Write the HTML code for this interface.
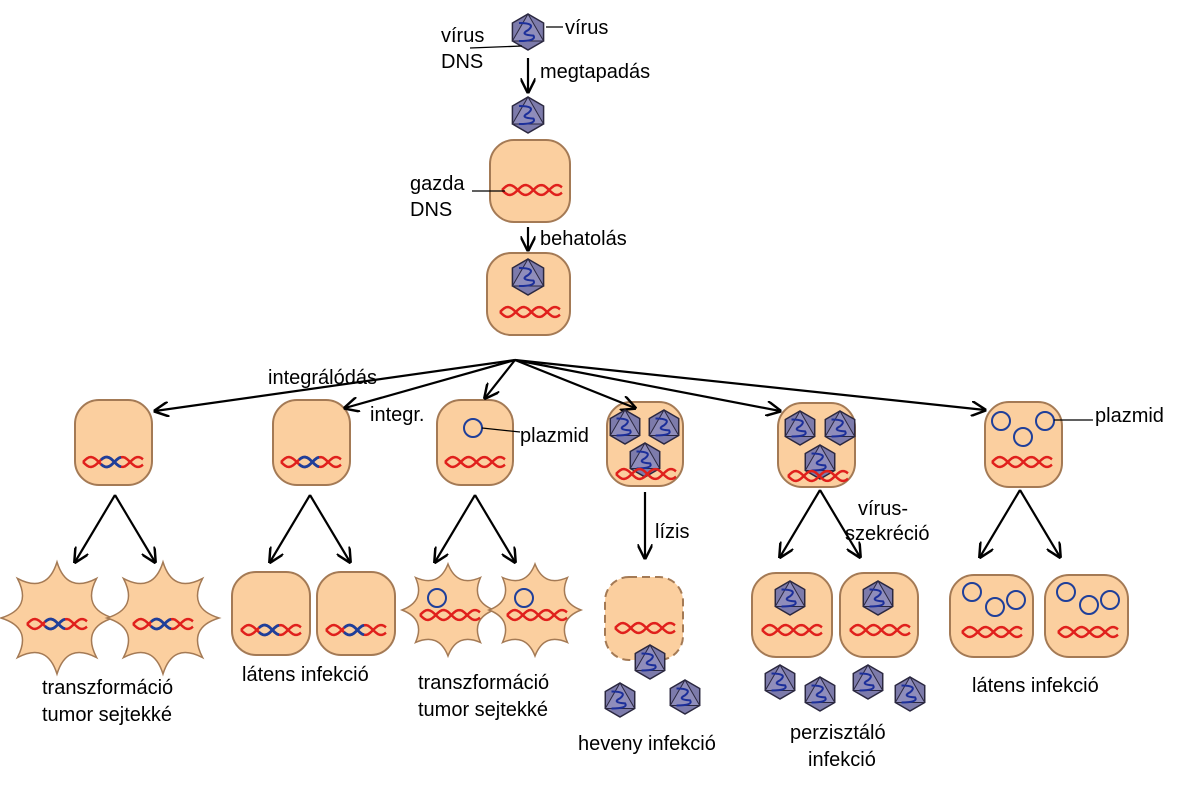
<!DOCTYPE html>
<html><head><meta charset="utf-8">
<style>
html,body{margin:0;padding:0;background:#fff;}
svg text{font-family:"Liberation Sans",sans-serif;font-size:20px;fill:#000;}
</style></head>
<body>
<svg id="s" width="1186" height="790" viewBox="0 0 1186 790" xmlns="http://www.w3.org/2000/svg">
<defs>
<marker id="ah" viewBox="0 0 10 10" refX="9" refY="5" markerWidth="7" markerHeight="7" orient="auto-start-reverse">
<path d="M0,0 L10,5 L0,10" fill="none" stroke="#000" stroke-width="1.6"/>
</marker>
</defs>
<g id="cells"></g>
<g id="marks"></g>
<g id="labels">
<text x="565" y="34">vírus</text>
<text x="441" y="42">vírus</text>
<text x="441" y="68">DNS</text>
<text x="540" y="78">megtapadás</text>
<text x="410" y="190">gazda</text>
<text x="410" y="216">DNS</text>
<text x="540" y="245">behatolás</text>
<text x="268" y="384">integrálódás</text>
<text x="370" y="421">integr.</text>
<text x="520" y="442">plazmid</text>
<text x="1095" y="422">plazmid</text>
<text x="655" y="538">lízis</text>
<text x="858" y="515">vírus-</text>
<text x="845" y="540">szekréció</text>
<text x="42" y="694">transzformáció</text>
<text x="42" y="721">tumor sejtekké</text>
<text x="242" y="681">látens infekció</text>
<text x="418" y="689">transzformáció</text>
<text x="418" y="716">tumor sejtekké</text>
<text x="578" y="750">heveny infekció</text>
<text x="790" y="739">perzisztáló</text>
<text x="808" y="766">infekció</text>
<text x="972" y="692">látens infekció</text>
</g>
</svg>
<script>
const NS="http://www.w3.org/2000/svg";
const cellsG=document.getElementById('cells'),marks=document.getElementById('marks');
function mk(tag,attrs,parent,name){const e=document.createElementNS(NS,tag);for(const k in attrs)e.setAttribute(k,attrs[k]);


(parent||marks).appendChild(e);return e;}
const FILL="#fbcf9f",STROKE="#a47a55";
function cell(x1,y1,x2,y2,dashed){const r=mk('rect',{x:x1,y:y1,width:x2-x1,height:y2-y1,rx:24,fill:FILL,stroke:STROKE,'stroke-width':2},cellsG,'cell');if(dashed)r.setAttribute('stroke-dasharray','8 5');}
function star(cx,cy,R,r,n){let d='';for(let i=0;i<n;i++){const a=i/n*2*Math.PI-Math.PI/2,a2=(i+0.5)/n*2*Math.PI-Math.PI/2,a3=(i+1)/n*2*Math.PI-Math.PI/2;
const p=[cx+R*Math.cos(a),cy+R*Math.sin(a)],q=[cx+r*Math.cos(a2),cy+r*Math.sin(a2)],e=[cx+R*Math.cos(a3),cy+R*Math.sin(a3)];
if(i==0)d+='M'+p[0].toFixed(1)+','+p[1].toFixed(1);d+=' Q'+q[0].toFixed(1)+','+q[1].toFixed(1)+' '+e[0].toFixed(1)+','+e[1].toFixed(1);}
mk('path',{d:d+'Z',fill:FILL,stroke:STROKE,'stroke-width':1.5},cellsG,'tumor-cell');}
function dna(cx,cy,mixed){const w=60;let d1='',d2='';for(let i=0;i<=w;i+=2){const x=cx-w/2+i,y1=cy+5*Math.sin(i/5),y2=cy-5*Math.sin(i/5);d1+=(i?'L':'M')+x.toFixed(1)+','+y1.toFixed(1);d2+=(i?'L':'M')+x.toFixed(1)+','+y2.toFixed(1);}
mk('path',{d:d1,fill:'none',stroke:'#e0201c','stroke-width':2.5},marks,'dna-strand');mk('path',{d:d2,fill:'none',stroke:'#e0201c','stroke-width':2.5},marks,'dna-strand');
if(mixed){let d3='';for(let i=18;i<=38;i+=2){const x=cx-w/2+i;d3+=(i>18?'L':'M')+x+','+(cy+5*Math.sin(i/5)).toFixed(1);}mk('path',{d:d3,fill:'none',stroke:'#1f3f9a','stroke-width':2.8},marks,'viral-dna');
let d4='';for(let i=18;i<=38;i+=2){const x=cx-w/2+i;d4+=(i>18?'L':'M')+x+','+(cy-5*Math.sin(i/5)).toFixed(1);}mk('path',{d:d4,fill:'none',stroke:'#1f3f9a','stroke-width':2.8},marks,'viral-dna');}}
function virus(cx,cy,r){r=r||17;let pts=[];for(let i=0;i<6;i++){const a=i*Math.PI/3-Math.PI/2;pts.push([cx+r*Math.cos(a),cy+r*Math.sin(a)]);}
mk('polygon',{points:pts.map(p=>p.join(',')).join(' '),fill:'#7d7bab',stroke:'#2b2840','stroke-width':1.5},marks,'virus');
mk('polygon',{points:[pts[0],pts[2],pts[4]].map(p=>p.join(',')).join(' '),fill:'#8f8dbb',stroke:'#2b2840','stroke-width':1},marks,'virus-face');
const s=r*0.5;mk('path',{d:`M${cx-s},${cy-s} Q${cx+s},${cy-s} ${cx},${cy-s*0.2} Q${cx-s},${cy+s*0.3} ${cx+s*0.6},${cy+s*0.4} Q${cx+s},${cy+s} ${cx-s},${cy+s}`,fill:'none',stroke:'#1c2f9a','stroke-width':2},marks,'virus-dna');}
function plasmid(cx,cy,r){mk('circle',{cx:cx,cy:cy,r:r||9,fill:'none',stroke:'#1f3f9a','stroke-width':2},marks,'plasmid');}
function arrow(x1,y1,x2,y2,w){mk('line',{x1:x1,y1:y1,x2:x2,y2:y2,stroke:'#000','stroke-width':w||2.2,'marker-end':'url(#ah)'},marks,'arrow');}
function line(x1,y1,x2,y2){mk('line',{x1:x1,y1:y1,x2:x2,y2:y2,stroke:'#000','stroke-width':1.3},marks,'leader-line');}

virus(528,32,18);line(546,27,563,27);line(470,48,522,46);
arrow(528,58,528,92);virus(528,115,18);
cell(490,140,570,222);dna(532,190);line(472,191,505,191);
arrow(528,227,528,250);
cell(487,253,570,335);virus(528,277,18);dna(530,312);
const bx=515,by=360;
[[155,411],[345,408],[485,398],[635,408],[780,411],[985,410]].forEach(p=>arrow(bx,by,p[0],p[1]));
cell(75,400,152,485);dna(113,462,true);
cell(273,400,350,485);dna(311,462,true);
cell(437,400,513,485);plasmid(473,428);line(482,428,520,432);dna(475,462);
cell(607,402,683,486);virus(625,427);virus(664,427);virus(645,460);dna(646,474);
cell(778,403,855,487);virus(800,428);virus(840,428);virus(820,462);dna(818,476);
cell(985,402,1062,487);plasmid(1001,421);plasmid(1023,437);plasmid(1045,421);line(1054,420,1093,420);dna(1022,462);
function vee(cx,top){arrow(cx,top,cx-40,top+67);arrow(cx,top,cx+40,top+67);}
vee(115,495);vee(310,495);vee(475,495);vee(820,490);vee(1020,490);
arrow(645,492,645,558);
star(57,618,56,26,8);dna(57,624,true);
star(163,618,56,26,8);dna(163,624,true);
cell(232,572,310,655);dna(271,630,true);
cell(317,572,395,655);dna(356,630,true);
star(448,610,46,24,8);plasmid(437,598);dna(450,615);
star(535,610,46,24,8);plasmid(524,598);dna(537,615);
cell(605,577,683,660,true);dna(645,628);
virus(650,662);virus(620,700);virus(685,697);
cell(752,573,832,657);virus(790,598);dna(792,630);
cell(840,573,918,657);virus(878,598);dna(880,630);
virus(780,682);virus(820,694);virus(868,682);virus(910,694);
cell(950,575,1033,657);plasmid(972,592);plasmid(995,607);plasmid(1016,600);dna(992,632);
cell(1045,575,1128,657);plasmid(1066,592);plasmid(1089,605);plasmid(1110,600);dna(1088,632);
</script>
</body></html>
